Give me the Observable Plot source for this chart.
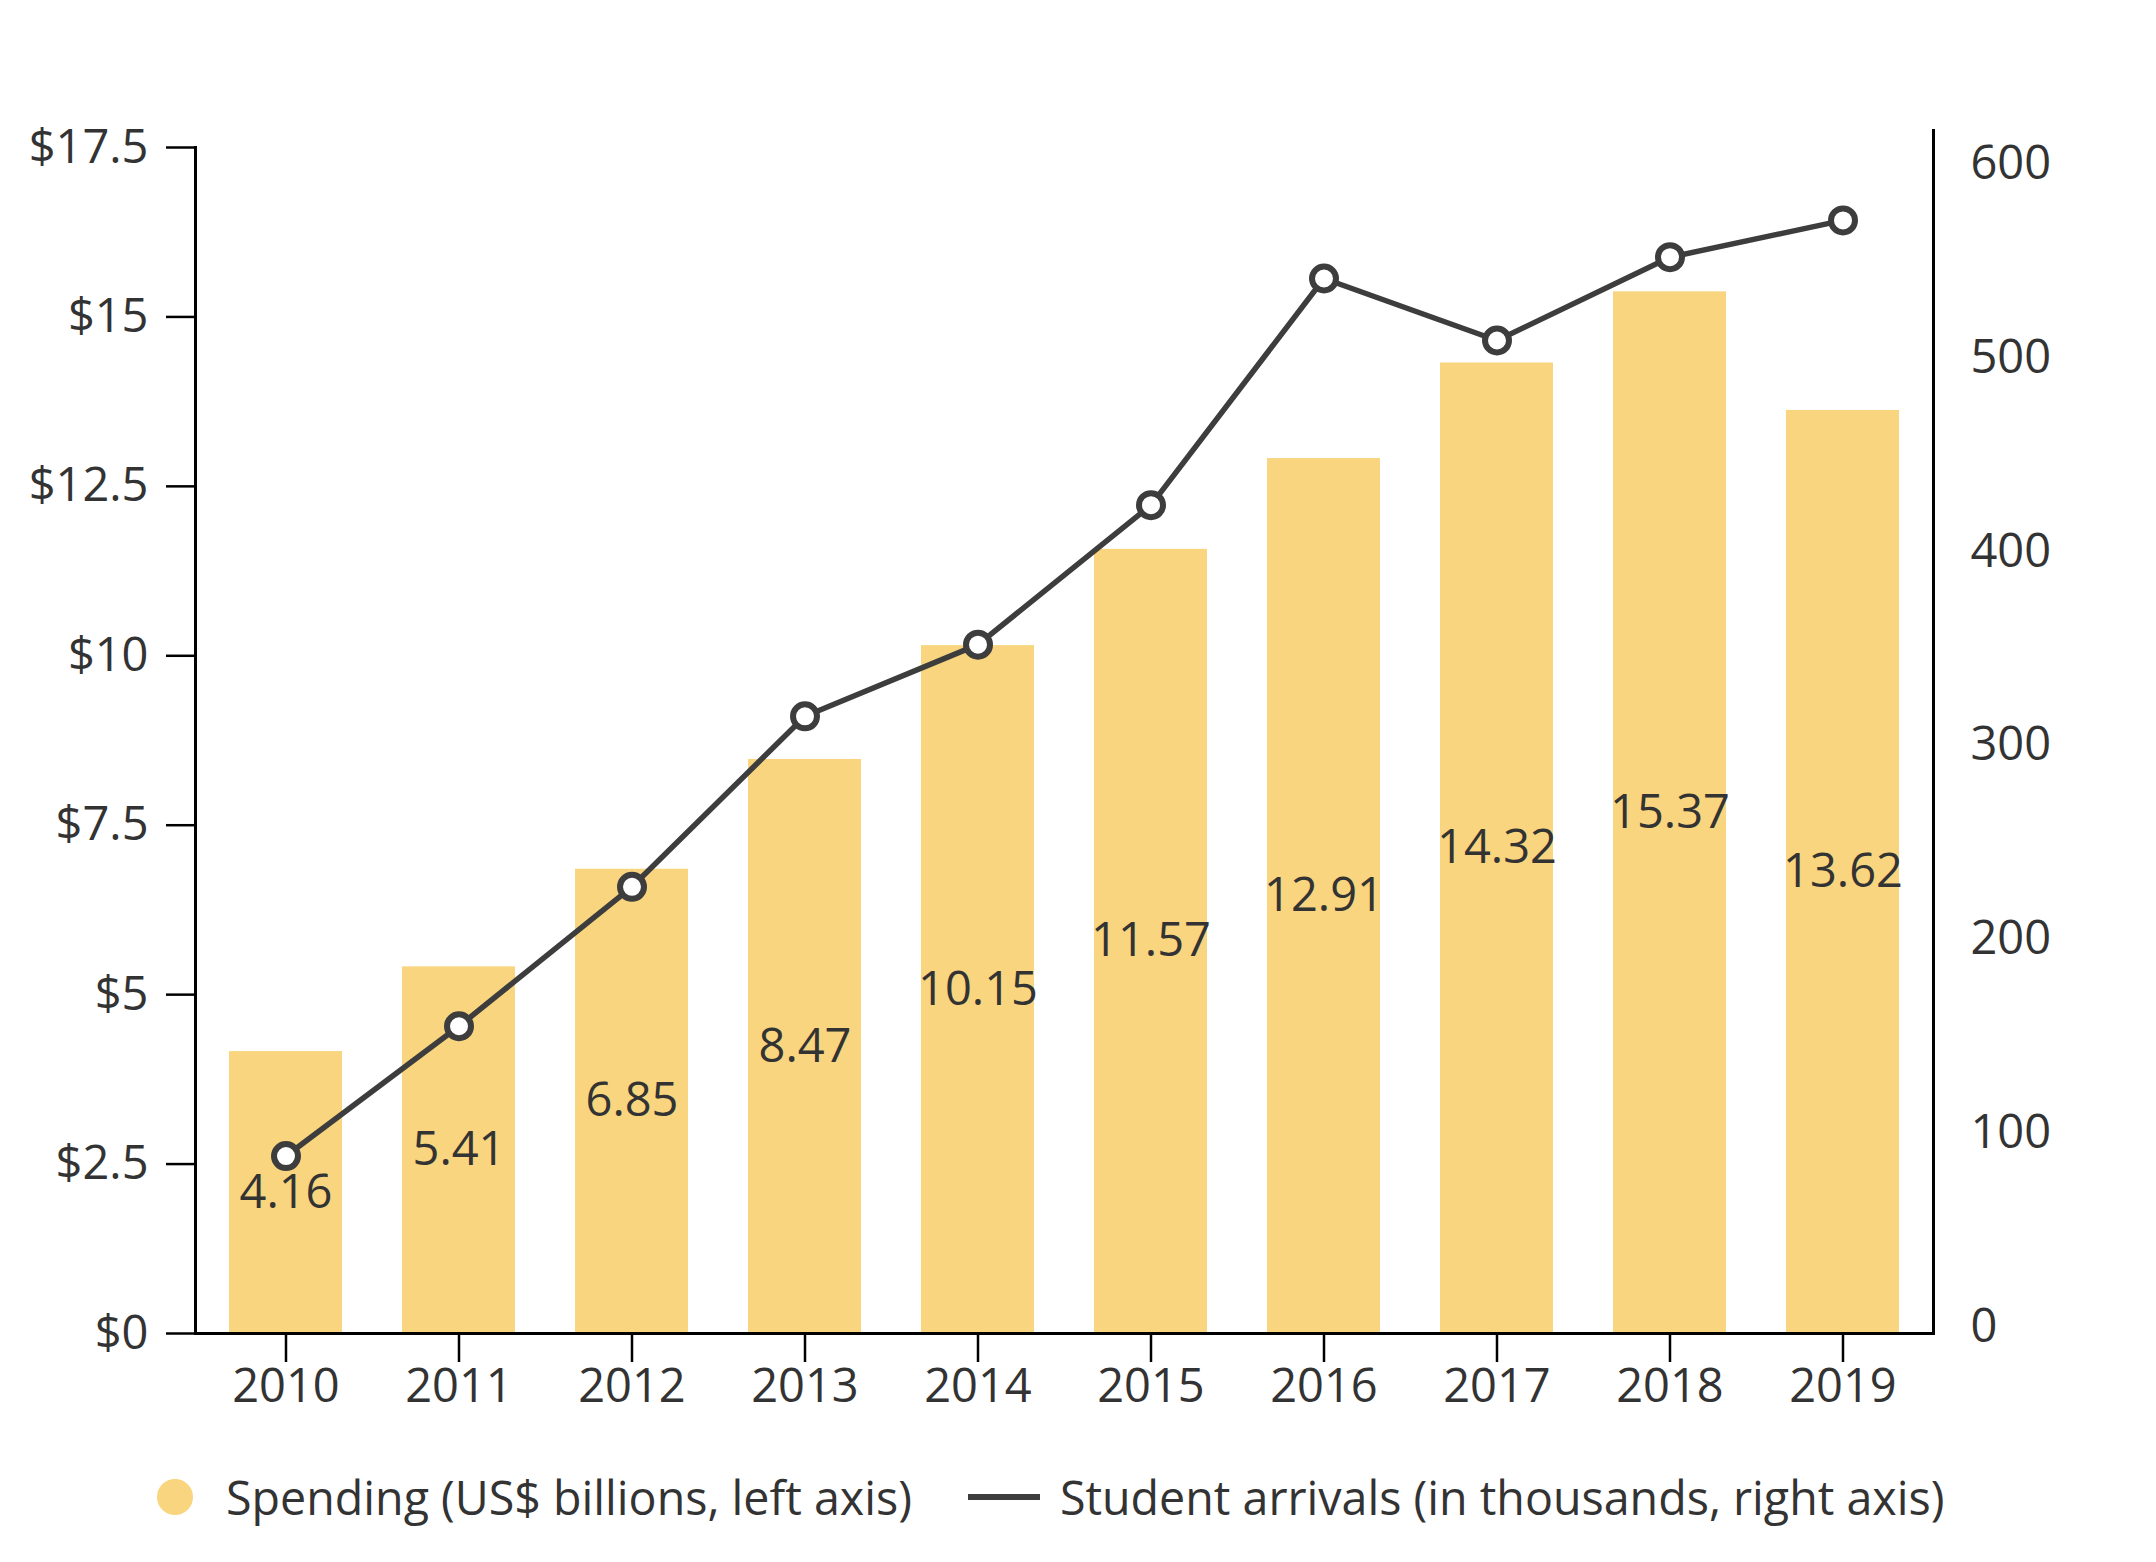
<!DOCTYPE html>
<html>
<head>
<meta charset="utf-8">
<script src="https://cdn.jsdelivr.net/npm/d3@7"></script>
<script src="https://cdn.jsdelivr.net/npm/@observablehq/plot@0.6"></script>
<style>
  html, body { margin: 0; padding: 0; background: #fff; }
  body { width: 2156px; height: 1562px; font-family: "Open Sans", sans-serif; color: #333; }
  #legend { height: 114px; display: flex; align-items: center; padding-left: 157px; font-size: 46.6px; color: #333; }
  .item { display: flex; align-items: center; }
  .swatch-dot { width: 36px; height: 36px; border-radius: 50%; background: #F8D57E; margin-right: 33px; }
  .swatch-line { width: 72px; height: 6px; background: #3d3d3d; margin-left: 56px; margin-right: 20px; }
</style>
</head>
<body>
<div id="chart"></div>
<div id="legend">
  <div class="item"><div class="swatch-dot"></div><span>Spending (US$ billions, left axis)</span></div>
  <div class="item"><div class="swatch-line"></div><span>Student arrivals (in thousands, right axis)</span></div>
</div>
<script>
const years = ["2010","2011","2012","2013","2014","2015","2016","2017","2018","2019"];
const spending = [4.16, 5.41, 6.85, 8.47, 10.15, 11.57, 12.91, 14.32, 15.37, 13.62];
const arrivals = [88, 155, 227, 315, 352, 424, 541, 509, 552, 571];
const leftTicks = [0, 2.5, 5, 7.5, 10, 12.5, 15, 17.5];
const rightTicks = [0, 100, 200, 300, 400, 500, 600];

// secondary axis mapping (thousands -> left-axis units)
const rOff = 0.103, rK = 0.028584;
const toLeft = v => rOff + v * rK;
const fromLeft = y => Math.round((y - rOff) / rK);

const data = years.map((y, i) => ({year: y, spend: spending[i], arr: arrivals[i]}));

const ink = "#333";
const lineColor = "#3d3d3d";
const barColor = "#F8D57E";

const plot = Plot.plot({
  width: 2156,
  height: 1440,
  marginLeft: 195,
  marginRight: 223,
  marginTop: 147,
  marginBottom: 107,
  style: {fontFamily: "Open Sans", fontSize: "47px", color: ink, background: "#fff", overflow: "visible"},
  x: {type: "band", domain: years, paddingInner: 0.349, paddingOuter: 0.17},
  y: {domain: [0, 17.5]},
  marks: [
    Plot.barY(data, {x: "year", y: "spend", fill: barColor}),
    Plot.text(data, {x: "year", y: d => d.spend / 2, text: d => d.spend.toFixed(2), fill: ink, fontSize: 47}),
    Plot.line(data, {x: "year", y: d => toLeft(d.arr), stroke: lineColor, strokeWidth: 5.5}),
    Plot.dot(data, {x: "year", y: d => toLeft(d.arr), r: 12, fill: "#fff", stroke: lineColor, strokeWidth: 6}),
    Plot.axisY(leftTicks, {anchor: "left", tickSize: 29, tickPadding: 18, tickFormat: d => "$" + d, stroke: "#000", strokeWidth: 2.5, fill: ink, fontSize: 47, label: null}),
    Plot.axisY(rightTicks.map(toLeft), {anchor: "right", tickSize: 0, tickPadding: 37, tickFormat: d => String(fromLeft(d)), fill: ink, fontSize: 47, label: null, textAnchor: "start"}),
    Plot.axisX({anchor: "bottom", tickSize: 29, tickPadding: 6, stroke: "#000", strokeWidth: 2.5, fill: ink, fontSize: 47, label: null}),
    Plot.frame({anchor: "left", stroke: "#000", strokeWidth: 3}),
    Plot.frame({anchor: "right", stroke: "#000", strokeWidth: 3, insetTop: -17}),
    Plot.frame({anchor: "bottom", stroke: "#000", strokeWidth: 3})
  ]
});
document.getElementById("chart").appendChild(plot);
</script>
</body>
</html>
